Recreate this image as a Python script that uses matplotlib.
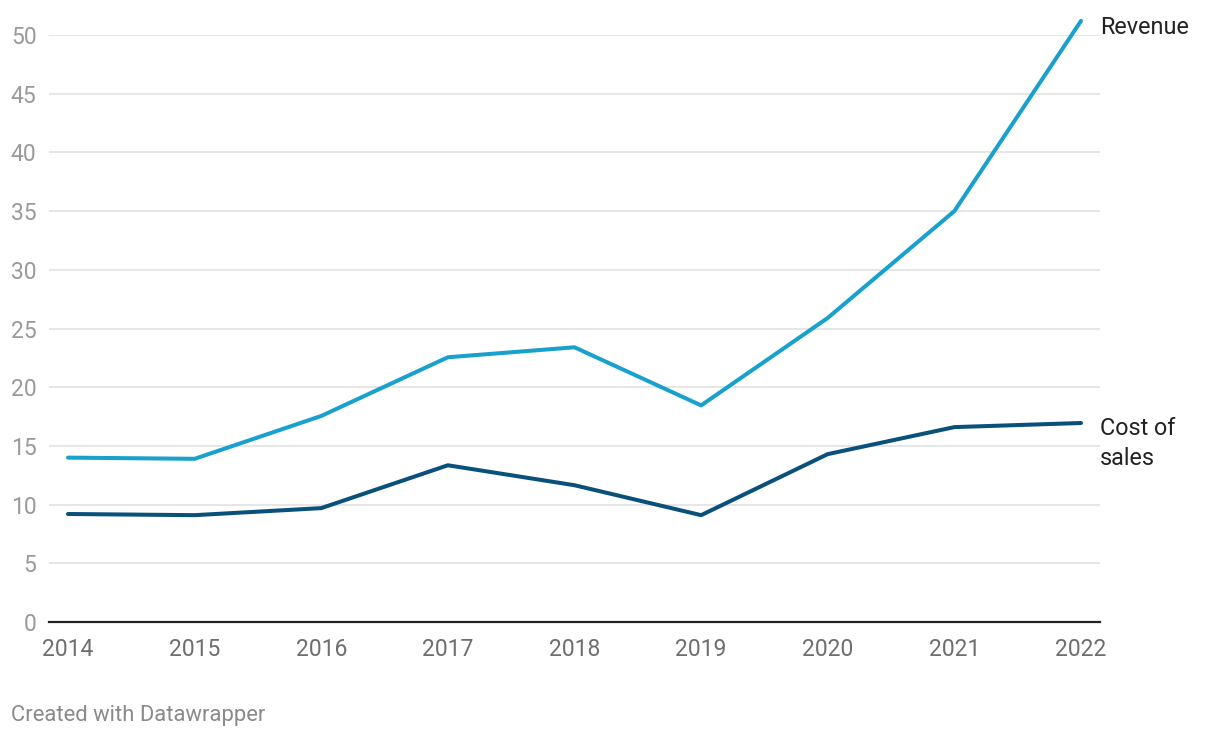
import matplotlib.pyplot as plt

# Data
years = [2014, 2015, 2016, 2017, 2018, 2019, 2020, 2021, 2022]
revenue = [14.0, 13.9, 17.55, 22.55, 23.4, 18.45, 25.9, 35.0, 51.2]
cost_of_sales = [9.2, 9.1, 9.7, 13.35, 11.65, 9.1, 14.3, 16.6, 16.95]
yticks = [0, 5, 10, 15, 20, 25, 30, 35, 40, 45, 50]

plt.rcParams["font.family"] = ["Roboto", "DejaVu Sans"]

fig = plt.figure(figsize=(12.2, 7.38), dpi=100)
W, H = 1220, 738
ax = fig.add_axes([49 / W, 1 - 622 / H, (1100 - 49) / W, (622 - 35) / H])

ax.plot(years, revenue, color="#18a1cd", linewidth=2.9, solid_capstyle="round",
        solid_joinstyle="round", clip_on=False, zorder=3)
ax.plot(years, cost_of_sales, color="#09517a", linewidth=2.9, solid_capstyle="round",
        solid_joinstyle="round", clip_on=False, zorder=3)

ax.set_xlim(2014 - 0.15, 2022 + 0.15)
ax.set_ylim(0, 50)
ax.set_yticks(yticks)
ax.set_xticks(years)

ax.grid(axis="y", color="#e2e2e2", linewidth=1.2)
ax.set_axisbelow(True)
for s in ["top", "right", "left"]:
    ax.spines[s].set_visible(False)
ax.spines["bottom"].set_color("#222222")
ax.spines["bottom"].set_linewidth(1.6)
ax.spines["bottom"].set_zorder(4)

ax.tick_params(axis="y", length=0, pad=9, labelsize=16.5, labelcolor="#9a9a9a")
ax.tick_params(axis="x", length=0, pad=11.5, labelsize=16.5, labelcolor="#6e6e6e")

# Line labels next to the last point
ax.annotate("Revenue", xy=(1.0, revenue[-1]), xycoords=ax.get_yaxis_transform(),
            xytext=(0, -9.5), textcoords="offset points",
            fontsize=16.8, color="#222222", va="baseline", ha="left")
ax.annotate("Cost of\nsales", xy=(1.0, cost_of_sales[-1]), xycoords=ax.get_yaxis_transform(),
            xytext=(0, -30), textcoords="offset points", linespacing=1.35,
            fontsize=16.8, color="#222222", va="baseline", ha="left")

fig.text(11 / W, 1 - 715 / H, "Created with Datawrapper", fontsize=15.8,
         color="#8a8a8a", va="center", ha="left")

fig.savefig("out.png", dpi=100)
